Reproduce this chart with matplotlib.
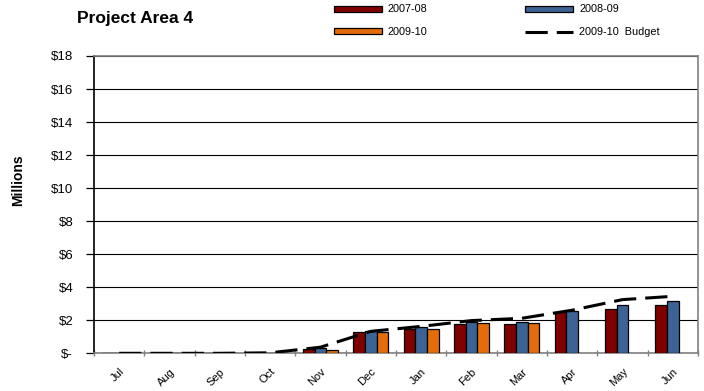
import matplotlib
matplotlib.use("Agg")
import matplotlib.pyplot as plt
import matplotlib.transforms as mtransforms
import numpy as np

plt.rcParams['font.family'] = ['Liberation Sans', 'DejaVu Sans']
plt.rcParams['lines.scale_dashes'] = False

months = ["Jul", "Aug", "Sep", "Oct", "Nov", "Dec", "Jan", "Feb", "Mar", "Apr", "May", "Jun"]
fy0708 = [0, 0, 0, 0, 0.29, 1.29, 1.49, 1.80, 1.78, 2.51, 2.70, 2.92]
fy0809 = [0, 0, 0, 0, 0.33, 1.37, 1.59, 1.92, 1.92, 2.59, 2.92, 3.16]
fy0910 = [0, 0, 0, 0, 0.20, 1.29, 1.45, 1.86, 1.86, np.nan, np.nan, np.nan]
budget0910 = [0, 0, 0, 0.03, 0.37, 1.33, 1.63, 1.98, 2.12, 2.61, 3.25, 3.45]
yticks = [0, 2, 4, 6, 8, 10, 12, 14, 16, 18]
ytick_labels = ["$-", "$2", "$4", "$6", "$8", "$10", "$12", "$14", "$16", "$18"]

c_red = "#800000"
c_blue = "#3B6395"
c_orange = "#E46C0A"

fig = plt.figure(figsize=(7.04, 3.91), dpi=100)
ax = fig.add_axes([94 / 704, 1 - 353.3 / 391, 604 / 704, 297.3 / 391])

x = np.arange(len(months))
w = 0.23
kw = dict(edgecolor="black", linewidth=0.9, zorder=3)
b1 = ax.bar(x - w, fy0708, w, color=c_red, label="2007-08", **kw)
b2 = ax.bar(x, fy0809, w, color=c_blue, label="2008-09", **kw)
b3 = ax.bar(x + w, fy0910, w, color=c_orange, label="2009-10", **kw)
ln, = ax.plot(x, budget0910, color="black", linewidth=2.2, dashes=(16, 6.5),
              label="2009-10  Budget", zorder=4)

ax.set_xlim(-0.5, len(months) - 0.5)
ax.set_ylim(0, 18)
ax.set_yticks(yticks)
ax.set_yticklabels(ytick_labels, fontsize=9.5)
ax.yaxis.grid(True, color="black", linewidth=0.8, zorder=0)
ax.set_axisbelow(True)

# category labels at centres, tick marks at boundaries
ax.set_xticks(x)
ax.set_xticklabels(months, rotation=45, ha="right", va="top",
                   rotation_mode="anchor", fontsize=8)
shift = mtransforms.ScaledTranslation(-2 / 72, 0, fig.dpi_scale_trans)
for lbl in ax.get_xticklabels():
    lbl.set_transform(lbl.get_transform() + shift)
ax.tick_params(axis="x", which="major", length=0, pad=9.5)
ax.set_xticks(np.arange(-0.5, len(months)), minor=True)
ax.tick_params(axis="x", which="minor", length=5, direction="inout",
               color="#808080", width=1)
ax.tick_params(axis="y", length=6, direction="out", color="black", width=0.9, pad=9)

for side in ("top", "right", "bottom"):
    ax.spines[side].set_color("#808080")
    ax.spines[side].set_linewidth(1.2)
ax.spines["left"].set_color("black")
ax.spines["left"].set_linewidth(1.2)

fig.text(18 / 704, 1 - 180 / 391, "Millions", fontsize=10, fontweight="bold",
         rotation=90, ha="center", va="center")

fig.text(77 / 704, 1 - 23 / 391, "Project Area 4", fontsize=12.5, fontweight="bold",
         ha="left", va="baseline")

fig.legend(handles=[b1, b3, b2, ln], ncol=2, loc="upper left",
           bbox_to_anchor=(334 / 704, 1 - 4.5 / 391), frameon=False,
           fontsize=7.8, handlelength=4.4, handleheight=0.45, handletextpad=0.58,
           columnspacing=9.0, labelspacing=1.17, borderpad=0, borderaxespad=0)

fig.savefig("out.png", dpi=100)
